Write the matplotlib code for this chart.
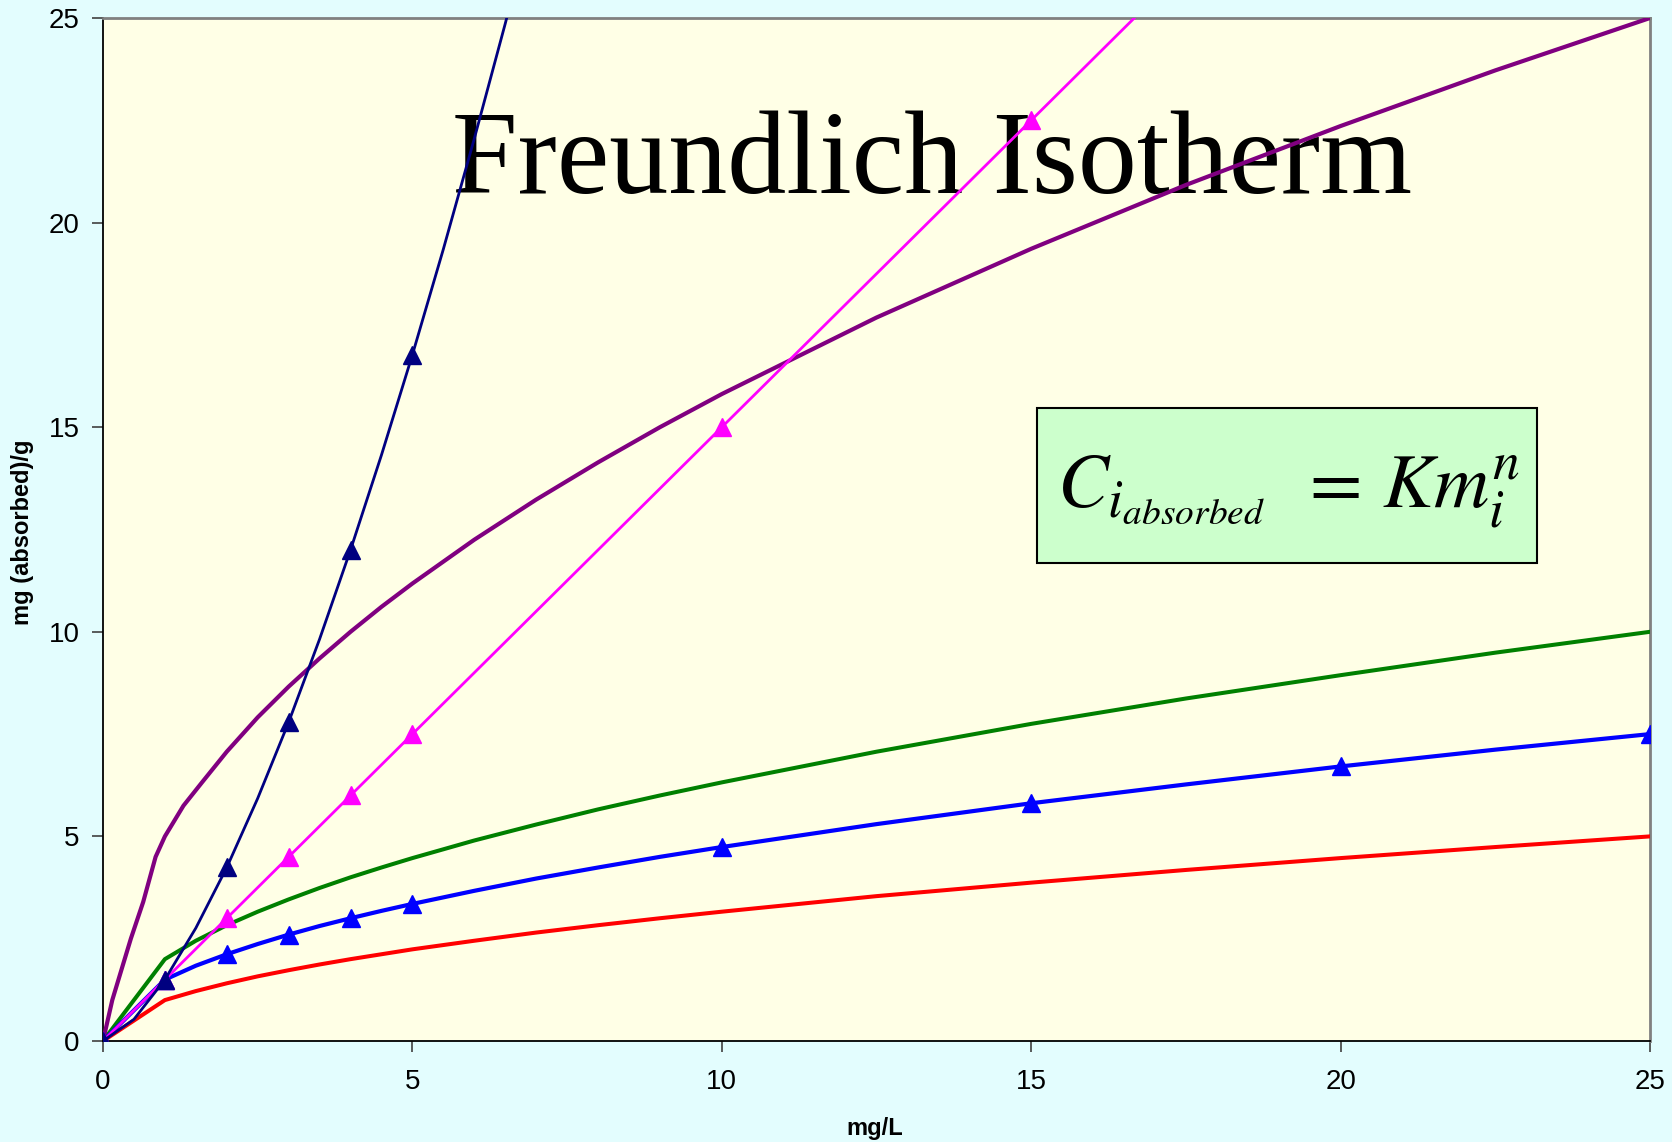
"""Freundlich isotherm curves for several K / n combinations."""
import matplotlib.pyplot as plt
from matplotlib.patches import Rectangle

plt.rcParams["mathtext.fontset"] = "stix"

# concentration grid shared by the low-uptake curves (mg/L)
conc = [0, 1, 1.5, 2, 2.5, 3, 3.5, 4, 4.5, 5, 6, 7, 8, 9, 10,
        12.5, 15, 17.5, 20, 22.5, 25]
red_y = [0, 1.00, 1.22, 1.41, 1.58, 1.73, 1.87, 2.00, 2.12, 2.24, 2.45,
         2.65, 2.83, 3.00, 3.16, 3.54, 3.87, 4.18, 4.47, 4.74, 5.00]
green_y = [0, 2.00, 2.45, 2.83, 3.16, 3.46, 3.74, 4.00, 4.24, 4.47, 4.90,
           5.29, 5.66, 6.00, 6.32, 7.07, 7.75, 8.37, 8.94, 9.49, 10.00]
blue_y = [0, 1.50, 1.84, 2.12, 2.37, 2.60, 2.81, 3.00, 3.18, 3.35, 3.67,
          3.97, 4.24, 4.50, 4.74, 5.30, 5.81, 6.27, 6.71, 7.12, 7.50]
blue_marks = [0, 1, 3, 5, 7, 9, 14, 16, 18, 20]

purple_x = [0, 0.15, 0.45, 0.65, 0.85, 1.0, 1.3, 1.6, 2, 2.5, 3, 3.5, 4,
            4.5, 5, 6, 7, 8, 9, 10, 12.5, 15, 17.5, 20, 22.5, 25]
purple_y = [0, 1.00, 2.50, 3.40, 4.50, 5.00, 5.75, 6.32, 7.07, 7.91, 8.66,
            9.35, 10.00, 10.61, 11.18, 12.25, 13.23, 14.14, 15.00, 15.81,
            17.68, 19.36, 20.92, 22.36, 23.72, 25.00]

magenta_x = [0, 1, 2, 3, 4, 5, 10, 15, 20]
magenta_y = [0, 1.5, 3.0, 4.5, 6.0, 7.5, 15.0, 22.5, 30.0]

navy_x = [0, 0.5, 1, 1.5, 2, 2.5, 3, 3.5, 4, 4.5, 5, 5.5, 6, 6.5, 7]
navy_y = [0, 0.53, 1.50, 2.76, 4.24, 5.93, 7.79, 9.82, 12.00, 14.32,
          16.77, 19.35, 22.05, 24.86, 27.78]
navy_marks = [0, 2, 4, 6, 8, 10]

ticks = [0, 5, 10, 15, 20, 25]

W, H = 1672, 1142
fig = plt.figure(figsize=(W / 100, H / 100), dpi=100, facecolor="#e3fdfe")
ax = fig.add_axes([103 / W, 1 - 1041 / H, 1547 / W, 1023 / H])
ax.set_facecolor("#ffffe6")

ax.plot(conc, red_y, color="#ff0000", lw=2.9, zorder=3)
ax.plot(conc, green_y, color="#008000", lw=2.9, zorder=3)
ax.plot(purple_x, purple_y, color="#800080", lw=3.0, zorder=3)
ax.plot(conc, blue_y, color="#0000ff", lw=3.0, marker="^", ms=13,
        markevery=blue_marks, zorder=4)
ax.plot(magenta_x, magenta_y, color="#ff00ff", lw=2.0, marker="^", ms=13,
        zorder=5)
ax.plot(navy_x, navy_y, color="#000080", lw=2.0, marker="^", ms=13,
        markevery=navy_marks, zorder=6)

ax.set_xlim(0, 25)
ax.set_ylim(0, 25)
ax.set_xticks(ticks)
ax.set_yticks(ticks)
ax.tick_params(axis="both", length=8, width=1.2, color="#404040",
               labelsize=20, labelcolor="black")
ax.tick_params(axis="x", pad=12)
ax.tick_params(axis="y", pad=9)
for lab in ax.get_xticklabels() + ax.get_yticklabels():
    lab.set_fontfamily("Liberation Sans")

for side in ("left", "bottom"):
    ax.spines[side].set_color("black")
    ax.spines[side].set_linewidth(1.3)
for side in ("top", "right"):
    ax.spines[side].set_color("#808080")
    ax.spines[side].set_linewidth(2)

fig.text(875 / W, 1 - 1128 / H, "mg/L", ha="center", va="center",
         fontsize=17, fontweight="bold", family="Liberation Sans")
fig.text(23 / W, 1 - 532 / H, "mg (absorbed)/g", ha="center", va="center",
         rotation=90, fontsize=17, fontweight="bold",
         family="Liberation Sans")

ax.text(0.536, 0.829, "Freundlich Isotherm", transform=ax.transAxes,
        ha="center", va="baseline", fontsize=85, family="Liberation Serif",
        zorder=1)

ax.add_patch(Rectangle((0.604, 0.467), 0.323, 0.152, transform=ax.transAxes,
                       facecolor="#ccffcc", edgecolor="black", lw=1.5,
                       zorder=7))
ax.text(0.617, 0.522, r"$C_{i_{absorbed}}\;\;=\,Km_i^n$",
        transform=ax.transAxes, ha="left", va="baseline", fontsize=55,
        zorder=8)

fig.savefig("out.png", dpi=100, facecolor=fig.get_facecolor())
